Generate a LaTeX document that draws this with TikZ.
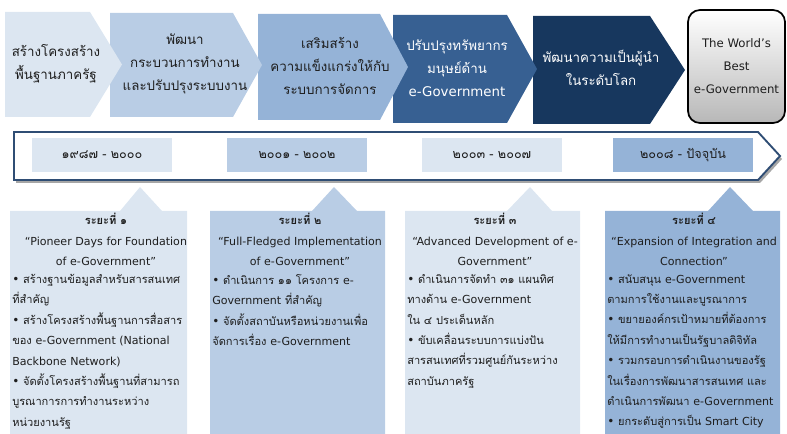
\documentclass[tikz,border=0pt]{standalone}
\usepackage{fontspec}
\setmainfont[Script=Thai]{Loma}
\newfontfamily\dv{DejaVu Sans}
\newcommand\en[1]{{\dv #1}}
\newcommand\bul{{\dv\small •}\ }
\definecolor{cA}{HTML}{DCE6F1}
\definecolor{cB}{HTML}{B9CDE5}
\definecolor{cC}{HTML}{95B3D7}
\definecolor{cD}{HTML}{376092}
\definecolor{cE}{HTML}{17375E}
\definecolor{txt}{HTML}{1E1E1E}
\definecolor{tl}{HTML}{2F4D74}
\begin{document}
\begin{tikzpicture}[x=0.75pt,y=-0.75pt,
  hdr/.style={align=center,font=\fontsize{10}{17.25}\selectfont,text=txt,inner sep=0pt},
  hdrw/.style={hdr,text=white},
  yearbox/.style={minimum width=105pt,minimum height=25.5pt,inner sep=0pt,font=\fontsize{9.5}{12}\selectfont,text=txt},
  ttl/.style={align=center,font=\fontsize{8.3}{15.4}\selectfont,text=txt,inner sep=0pt,anchor=north},
  bdy/.style={align=left,font=\fontsize{8.3}{15.3}\selectfont,text=txt,inner sep=0pt,anchor=north west}]
\useasboundingbox (0,0) rectangle (787,434);
% top chevrons (drawn back to front)
\fill[cE] (533,16) -- (650,16) -- (685,70) -- (650,124) -- (533,124) -- cycle;
\fill[cD] (393,15) -- (507,15) -- (537,69) -- (507,123) -- (393,123) -- cycle;
\fill[cC] (258,14) -- (380,14) -- (408,67) -- (380,120) -- (258,120) -- cycle;
\fill[cB] (110,13) -- (233,13) -- (262,65) -- (233,117) -- (110,117) -- cycle;
\fill[cA] (5,12) -- (90,12) -- (122,64.5) -- (90,117) -- (5,117) -- cycle;
\draw[line width=1.3pt,rounded corners=9pt,top color=white,bottom color=black!28] (688,10) rectangle (785,123);
\node[hdr] (h1) at (56,63.5) {สร้างโครงสร้าง\\พื้นฐานภาครัฐ};
\node[hdr] (h2) at (185,64) {พัฒนา\\กระบวนการทำงาน\\และปรับปรุงระบบงาน};
\node[hdr] (h3) at (330,66) {เสริมสร้าง\\ความแข็งแกร่งให้กับ\\ระบบการจัดการ};
\node[hdrw] (h4) at (457,68.5) {ปรับปรุงทรัพยากร\\มนุษย์ด้าน\\\en{e-Government}};
\node[hdrw] (h5) at (601,67.5) {พัฒนาความเป็นผู้นำ\\ในระดับโลก};
\node[hdr,font=\fontsize{8.8}{17.25}\selectfont] (h6) at (736.5,66.5) {\en{The World’s}\\\en{Best}\\\en{e-Government}};
% timeline arrow
\fill[black!35] (16,135) -- (760,135) -- (782,159) -- (760,183) -- (16,183) -- cycle;
\draw[tl,line width=1.4pt,fill=white] (14,132) -- (758,132) -- (780,156) -- (758,180) -- (14,180) -- cycle;
\node[yearbox,fill=cA] (y1) at (102,155) {๑๙๘๗ - ๒๐๐๐};
\node[yearbox,fill=cB] (y2) at (297,155) {๒๐๐๑ - ๒๐๐๒};
\node[yearbox,fill=cA] (y3) at (492,155) {๒๐๐๓ - ๒๐๐๗};
\node[yearbox,fill=cC] (y4) at (683,155) {๒๐๐๘ - ปัจจุบัน};
% callouts
\fill[cA] (10,211) -- (120,211) -- (140,187) -- (162,211) -- (187,211) -- (187,434) -- (10,434) -- cycle;
\fill[cB] (210,211) -- (312,211) -- (334,187) -- (357,211) -- (385,211) -- (385,434) -- (210,434) -- cycle;
\fill[cA] (405,211) -- (507,211) -- (530,187) -- (552,211) -- (580,211) -- (580,434) -- (405,434) -- cycle;
\fill[cC] (605,211) -- (708,211) -- (730,187) -- (753,211) -- (780,211) -- (780,434) -- (605,434) -- cycle;
\node[ttl] (t1) at (106,213) {\textbf{ระยะที่ ๑}\\\en{“Pioneer Days for Foundation}\\\en{of e-Government”}};
\node[bdy] (b1) at (12,274) {\bul สร้างฐานข้อมูลสำหรับสารสนเทศ\\ที่สำคัญ\\\bul สร้างโครงสร้างพื้นฐานการสื่อสาร\\ของ \en{e-Government (National}\\\en{Backbone Network)}\\\bul จัดตั้งโครงสร้างพื้นฐานที่สามารถ\\บูรณาการการทำงานระหว่าง\\หน่วยงานรัฐ};
\node[ttl] (t2) at (300,213) {\textbf{ระยะที่ ๒}\\\en{“Full-Fledged Implementation}\\\en{of e-Government”}};
\node[bdy] (b2) at (212,274) {\bul ดำเนินการ ๑๑ โครงการ \en{e-}\\\en{Government} ที่สำคัญ\\\bul จัดตั้งสถาบันหรือหน่วยงานเพื่อ\\จัดการเรื่อง \en{e-Government}};
\node[ttl] (t3) at (495,213) {\textbf{ระยะที่ ๓}\\\en{“Advanced Development of e-}\\\en{Government”}};
\node[bdy] (b3) at (407,274) {\bul ดำเนินการจัดทำ ๓๑ แผนทิศ\\ทางด้าน \en{e-Government}\\ใน ๔ ประเด็นหลัก\\\bul ขับเคลื่อนระบบการแบ่งปัน\\สารสนเทศที่รวมศูนย์กันระหว่าง\\สถาบันภาครัฐ};
\node[ttl] (t4) at (694,213) {\textbf{ระยะที่ ๔}\\\en{“Expansion of Integration and}\\\en{Connection”}};
\node[bdy] (b4) at (607,274) {\bul สนับสนุน \en{e-Government}\\ตามการใช้งานและบูรณาการ\\\bul ขยายองค์กรเป้าหมายที่ต้องการ\\ให้มีการทำงานเป็นรัฐบาลดิจิทัล\\\bul รวมกรอบการดำเนินงานของรัฐ\\ในเรื่องการพัฒนาสารสนเทศ และ\\ดำเนินการพัฒนา \en{e-Government}\\\bul ยกระดับสู่การเป็น \en{Smart City}};
\end{tikzpicture}
\end{document}
